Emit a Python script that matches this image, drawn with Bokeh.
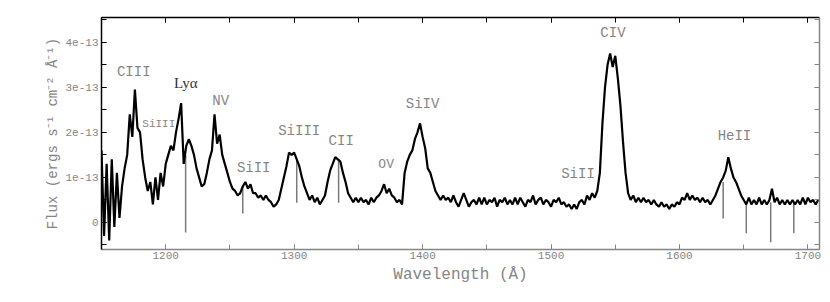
from bokeh.plotting import figure
from bokeh.models import LinearAxis, Range1d, SingleIntervalTicker, CustomJSTickFormatter, ColumnDataSource
from bokeh.core.properties import value
from bokeh.embed import file_html
from bokeh.resources import INLINE

# wavelength grid start/step (Angstrom) and flux in units of 1e-13 erg/s/cm^2/A
wave_start = 1150
wave_step = 2
flux = [
    1.6, -0.3, 1.3, -0.4, 1.4, -0.1, 1.1, 0.1, 0.8, 1.2,     # 1150-1168
    1.5, 2.4, 1.9, 2.95, 2.1, 2.0, 1.4, 1.0, 0.7, 0.9,       # 1170-1188
    0.4, 1.0, 0.5, 1.1, 0.8, 1.3, 1.5, 1.7, 1.6, 2.0,        # 1190-1208
    2.3, 2.65, 1.3, 1.7, 1.85, 1.7, 1.5, 1.2, 1.0, 0.8,      # 1210-1228
    0.85, 1.1, 1.4, 1.6, 2.4, 1.75, 1.95, 1.5, 1.3, 1.1,     # 1230-1248
    0.9, 0.75, 0.7, 0.6, 0.65, 0.8, 0.9, 0.75, 0.85, 0.65,   # 1250-1268
    0.65, 0.55, 0.6, 0.5, 0.6, 0.5, 0.45, 0.35, 0.4, 0.5,    # 1270-1288
    0.75, 1.0, 1.25, 1.55, 1.5, 1.55, 1.4, 1.25, 1.0, 0.8,   # 1290-1308
    0.65, 0.5, 0.6, 0.45, 0.55, 0.4, 0.5, 0.6, 0.9, 1.15,    # 1310-1328
    1.3, 1.45, 1.4, 1.35, 1.1, 0.9, 0.65, 0.55, 0.45, 0.55,  # 1330-1348
    0.45, 0.55, 0.45, 0.5, 0.4, 0.55, 0.45, 0.55, 0.6, 0.7,  # 1350-1368
    0.85, 0.65, 0.75, 0.6, 0.55, 0.45, 0.5, 0.4, 1.1, 1.35,  # 1370-1388
    1.5, 1.6, 1.85, 2.0, 2.2, 1.9, 1.65, 1.2, 1.1, 0.9,      # 1390-1408
    0.7, 0.6, 0.5, 0.6, 0.5, 0.55, 0.45, 0.6, 0.45, 0.35,    # 1410-1428
    0.5, 0.65, 0.5, 0.35, 0.45, 0.5, 0.4, 0.55, 0.4, 0.55,   # 1430-1448
    0.4, 0.5, 0.45, 0.55, 0.35, 0.5, 0.45, 0.55, 0.4, 0.5,   # 1450-1468
    0.4, 0.55, 0.4, 0.55, 0.45, 0.35, 0.5, 0.45, 0.6, 0.4,   # 1470-1488
    0.5, 0.55, 0.4, 0.5, 0.45, 0.35, 0.5, 0.45, 0.55, 0.4,   # 1490-1508
    0.45, 0.35, 0.4, 0.3, 0.4, 0.3, 0.45, 0.5, 0.4, 0.6,     # 1510-1528
    0.5, 0.65, 0.55, 0.7, 1.1, 2.2, 3.0, 3.5, 3.75, 3.45,    # 1530-1548
    3.7, 3.2, 2.6, 1.8, 1.1, 0.65, 0.5, 0.6, 0.45, 0.55,     # 1550-1568
    0.45, 0.55, 0.45, 0.5, 0.4, 0.5, 0.4, 0.35, 0.45, 0.35,  # 1570-1588
    0.4, 0.3, 0.4, 0.35, 0.45, 0.4, 0.55, 0.5, 0.65, 0.5,    # 1590-1608
    0.6, 0.5, 0.55, 0.45, 0.55, 0.45, 0.5, 0.4, 0.5, 0.6,    # 1610-1628
    0.75, 0.9, 1.0, 1.15, 1.45, 1.2, 1.0, 0.9, 0.75, 0.6,    # 1630-1648
    0.5, 0.4, 0.55, 0.4, 0.5, 0.4, 0.55, 0.4, 0.5, 0.4,      # 1650-1668
    0.5, 0.75, 0.45, 0.55, 0.4, 0.5, 0.4, 0.5, 0.4, 0.5,     # 1670-1688
    0.4, 0.5, 0.4, 0.55, 0.4, 0.55, 0.45, 0.5, 0.4, 0.5,     # 1690-1708
]
wave = [wave_start + wave_step * i for i in range(len(flux))]

# narrow absorption features: wavelength, flux above, flux at bottom
abs_wave = [1215.5, 1260, 1302, 1334.6, 1634, 1652, 1671, 1689]
abs_top = [1.5, 0.8, 1.4, 1.4, 0.9, 0.45, 0.45, 0.45]
abs_bottom = [-0.22, 0.2, 0.44, 0.44, 0.09, -0.24, -0.44, -0.24]

# line identifications
line_names = ["CIII", "SiIII", "NV", "SiII", "SiIII", "CII", "OV", "SiIV", "SiII", "CIV", "HeII"]
line_x = [1175.1, 1194.6, 1242.8, 1268.5, 1303.9, 1336.6, 1371.6, 1400.0, 1521.0, 1548.2, 1642.8]
line_y = [3.33, 2.18, 2.69, 1.22, 2.02, 1.80, 1.29, 2.64, 1.07, 4.20, 1.91]
line_size = ["14px", "11px", "14px", "14px", "14px", "14px", "13px", "14px", "14px", "14px", "14px"]
lya_name = ["Lyα"]
lya_x = [1215.6]
lya_y = [3.09]

x_ticks_major = 100
y_ticks_major = 1

GREY = "#858585"

p = figure(frame_width=718, frame_height=232, output_backend="svg", toolbar_location=None,
           x_range=Range1d(1150, 1709), y_range=Range1d(-0.6, 4.55),
           min_border_left=101, min_border_top=17, min_border_right=3, min_border_bottom=10,
           x_axis_location=None, y_axis_location=None)
p.outline_line_color = None
p.xgrid.visible = False
p.ygrid.visible = False
p.background_fill_color = "white"
p.border_fill_color = "white"

yfmt = CustomJSTickFormatter(code="return tick == 0 ? '0' : tick.toFixed(0) + 'e-13';")
blank = CustomJSTickFormatter(code="return '';")

def style_axis(ax, color, show_labels):
    ax.axis_line_color = color
    ax.axis_line_width = 1.5
    ax.major_tick_line_color = color
    ax.minor_tick_line_color = color
    ax.major_tick_in = 5
    ax.major_tick_out = 0
    ax.minor_tick_in = 5
    ax.minor_tick_out = 0
    ax.major_label_text_font = "Liberation Mono"
    ax.major_label_text_font_size = "11px"
    ax.major_label_text_color = GREY
    ax.major_label_standoff = 3
    if not show_labels:
        ax.formatter = blank
        ax.major_label_standoff = 0

xb = LinearAxis(ticker=SingleIntervalTicker(interval=x_ticks_major, num_minor_ticks=2))
style_axis(xb, GREY, True)
xb.major_label_standoff = 2
xb.axis_label = "Wavelength (Å)"
xb.axis_label_text_font = "Liberation Mono"
xb.axis_label_text_font_size = "16px"
xb.axis_label_text_font_style = "normal"
xb.axis_label_text_color = GREY
xb.axis_label_standoff = 4
p.add_layout(xb, "below")

xt = LinearAxis(ticker=SingleIntervalTicker(interval=x_ticks_major, num_minor_ticks=2))
style_axis(xt, "black", False)
p.add_layout(xt, "above")

yl = LinearAxis(ticker=SingleIntervalTicker(interval=y_ticks_major, num_minor_ticks=2), formatter=yfmt)
style_axis(yl, "black", True)
yl.axis_label = "Flux (ergs s⁻¹ cm⁻² Å⁻¹)"
yl.axis_label_text_font = "Liberation Mono"
yl.axis_label_text_font_size = "14px"
yl.axis_label_text_font_style = "normal"
yl.axis_label_text_color = GREY
yl.axis_label_standoff = 1
p.add_layout(yl, "left")

yr = LinearAxis(ticker=SingleIntervalTicker(interval=y_ticks_major, num_minor_ticks=2))
style_axis(yr, GREY, False)
p.add_layout(yr, "right")

p.segment(x0=abs_wave, y0=abs_top, x1=abs_wave, y1=abs_bottom, line_color="#7a7a7a", line_width=1.5)
p.line(wave, flux, line_color="black", line_width=2.2)

src = ColumnDataSource(dict(x=line_x, y=line_y, t=line_names, s=line_size))
p.text(x="x", y="y", text="t", source=src, text_font=value("Liberation Mono"),
       text_font_size="s", text_color=GREY, text_align="center", text_baseline="middle")
p.text(x=lya_x, y=lya_y, text=lya_name, text_font=value("Liberation Serif"),
       text_font_size="15px", text_color="#333333", text_align="center", text_baseline="middle")

open("out.html", "w").write(file_html(p, INLINE))
